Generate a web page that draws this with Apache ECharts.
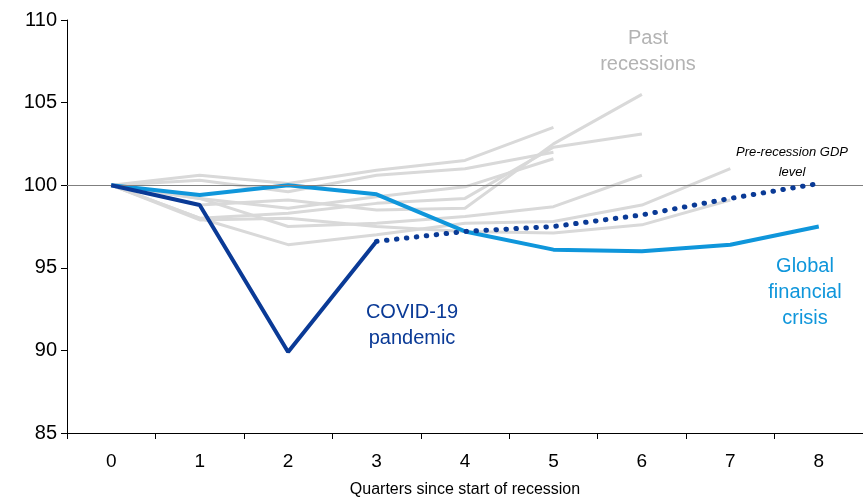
<!DOCTYPE html>
<html>
<head>
<meta charset="utf-8">
<script src="https://cdn.jsdelivr.net/npm/echarts@6/dist/echarts.min.js"></script>
<style>
html,body{margin:0;padding:0;background:#fff;}
#c{width:863px;height:503px;}
</style>
</head>
<body>
<div id="c"></div>
<script>
// ---- data ----
const quarters = ['0','1','2','3','4','5','6','7','8'];
const yTicks = [85, 90, 95, 100, 105, 110];
const past1 = [100, 100.6, 100.1, 100.9, 101.5, 103.5];
const past2 = [100, 100.3, 99.6, 100.6, 101.0, 102.0];
const past3 = [100, 99.2, 98.6, 99.3, 99.9, 101.6];
const past4 = [100, 98.8, 99.1, 98.5, 98.6, 102.5, 105.5];
const past5 = [100, 98.0, 98.3, 98.9, 99.2, 102.3, 103.1];
const past6 = [100, 99.2, 97.5, 97.7, 98.1, 98.7, 100.6];
const past7 = [100, 98.0, 96.4, 97.0, 97.7, 97.8, 98.8, 101.0];
const past8 = [100, 97.9, 98.0, 97.5, 97.2, 97.1, 97.6, 99.1];
const pastRecessions = [past1, past2, past3, past4, past5, past6, past7, past8];
const gfc = [100, 99.4, 100.0, 99.45, 97.2, 96.1, 96.0, 96.4, 97.5];
const covidActual = [100, 98.8, 89.9, 96.6];
const covidProjected = [null, null, null, 96.6, 97.2, 97.5, 98.2, 99.2, 100.1];
const preRecessionLevel = 100;

const chart = echarts.init(document.getElementById('c'));
const series = [];
pastRecessions.forEach((d, i) => {
  series.push({
    type: 'line', data: d, symbol: 'none', silent: true, z: 2,
    lineStyle: {color: '#d9d9d9', width: 3}
  });
});
series[0].markLine = {
  silent: true, symbol: 'none', label: {show: false},
  lineStyle: {color: '#7f7f7f', width: 1, type: 'solid'},
  data: [{yAxis: preRecessionLevel}]
};
series.push({
  type: 'line', data: gfc, symbol: 'none', z: 4,
  lineStyle: {color: '#0f96db', width: 4}
});
series.push({
  type: 'line', data: covidProjected, symbol: 'none', z: 5,
  lineStyle: {color: '#0a3a96', width: 5, type: [0.5, 9.5], cap: 'round'}
});
series.push({
  type: 'line', data: covidActual, symbol: 'none', z: 6,
  lineStyle: {color: '#0a3a96', width: 4}
});

const font = 'Liberation Sans, Arial, sans-serif';
chart.setOption({
  animation: false,
  grid: {left: 67, right: 0, top: 20, bottom: 63},
  xAxis: {
    type: 'category', data: quarters, boundaryGap: true,
    name: 'Quarters since start of recession', nameLocation: 'middle', nameGap: 49,
    nameTextStyle: {color: '#000', fontSize: 16, fontFamily: font},
    axisLine: {lineStyle: {color: '#000', width: 1}},
    axisTick: {show: true, length: 6, lineStyle: {color: '#000'}},
    axisLabel: {color: '#000', fontSize: 19, fontFamily: font, margin: 19}
  },
  yAxis: {
    type: 'value', min: 85, max: 110, interval: 5,
    axisLine: {show: true, lineStyle: {color: '#000', width: 1}},
    axisTick: {show: true, length: 6, lineStyle: {color: '#000'}},
    axisLabel: {color: '#000', fontSize: 20, fontFamily: font, margin: 10},
    splitLine: {show: false}
  },
  series: series,
  graphic: [
    {type: 'text', position: [648, 51], style: {text: 'Past\nrecessions', fill: '#b3b3b3', font: '20px ' + font, textAlign: 'center', textVerticalAlign: 'middle', lineHeight: 26}},
    {type: 'text', position: [792, 162], style: {text: 'Pre-recession GDP\nlevel', fill: '#000', font: 'italic 13px ' + font, textAlign: 'center', textVerticalAlign: 'middle', lineHeight: 20}},
    {type: 'text', position: [412, 325], style: {text: 'COVID-19\npandemic', fill: '#0a3a96', font: '20px ' + font, textAlign: 'center', textVerticalAlign: 'middle', lineHeight: 26}},
    {type: 'text', position: [805, 292], style: {text: 'Global\nfinancial\ncrisis', fill: '#0f96db', font: '20px ' + font, textAlign: 'center', textVerticalAlign: 'middle', lineHeight: 26}}
  ]
});
</script>
</body>
</html>
